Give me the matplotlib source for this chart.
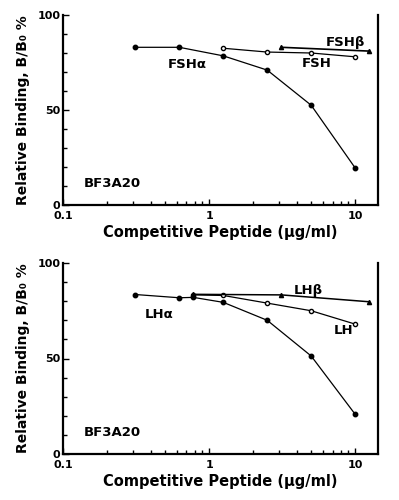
import matplotlib
matplotlib.use("Agg")
import matplotlib.pyplot as plt
from matplotlib.ticker import FixedLocator, NullFormatter

plt.rcParams['font.family'] = ['DejaVu Sans']
plt.rcParams['font.weight'] = 'bold'
plt.rcParams['axes.labelweight'] = 'bold'

# top panel: FSH
fsha_x = [0.3125, 0.625, 1.25, 2.5, 5, 10]
fsha_y = [83, 83, 78.5, 71, 52.5, 19.5]
fsh_x = [1.25, 2.5, 5, 10]
fsh_y = [82.5, 80.5, 80, 78]
fshb_x = [3.125, 12.5]
fshb_y = [83, 81]

# bottom panel: LH
lha_x = [0.3125, 0.625, 0.78, 1.25, 2.5, 5, 10]
lha_y = [83.5, 81.8, 82, 79.4, 70, 51.3, 20.8]
lh_x = [0.78, 1.25, 2.5, 5, 10]
lh_y = [83.3, 83, 79, 75, 68]
lhb_x = [0.78, 3.125, 12.5]
lhb_y = [83.6, 83.3, 79.7]

fig = plt.figure(figsize=(3.99, 5.0), dpi=100)
ax1 = fig.add_axes([0.158, 0.59, 0.789, 0.38])
ax2 = fig.add_axes([0.158, 0.092, 0.789, 0.382])


def style(ax):
    ax.set_xscale('log')
    ax.set_xlim(0.1, 14.3)
    ax.set_ylim(0, 100)
    ax.spines['top'].set_visible(False)
    for s in ['left', 'bottom', 'right']:
        ax.spines[s].set_linewidth(1.6)
    ax.set_yticks([0, 50, 100])
    ax.yaxis.set_minor_locator(FixedLocator([10, 20, 30, 40, 60, 70, 80, 90]))
    ax.set_xticks([0.1, 1, 10])
    ax.set_xticklabels(['0.1', '1', '10'])
    ax.xaxis.set_minor_formatter(NullFormatter())
    ax.tick_params(which='both', direction='in', labelsize=8, width=1.0)
    ax.tick_params(which='major', length=4)
    ax.tick_params(which='minor', length=3)
    ax.tick_params(axis='y', pad=2)
    ax.tick_params(axis='x', pad=4.5)
    ax.set_ylabel('Relative Binding, B/B₀ %', fontsize=10, labelpad=5)
    ax.set_xlabel('Competitive Peptide (μg/ml)', fontsize=10.5, labelpad=3)
    ax.text(0.138, 9.5, 'BF3A20', fontsize=9.5)


style(ax1)
ax1.plot(fsha_x, fsha_y, color='black', lw=0.9, marker='o', ms=3.2)
ax1.plot(fsh_x, fsh_y, color='black', lw=0.9, marker='o', ms=3, mfc='white')
ax1.plot(fshb_x, fshb_y, color='black', lw=1.2, marker='^', ms=3)
ax1.text(0.52, 72, 'FSHα', fontsize=9.5)
ax1.text(6.3, 83.5, 'FSHβ', fontsize=9.5)
ax1.text(4.3, 72.5, 'FSH', fontsize=9.5)

style(ax2)
ax2.plot(lha_x, lha_y, color='black', lw=0.9, marker='o', ms=3.2)
ax2.plot(lh_x, lh_y, color='black', lw=0.9, marker='o', ms=3, mfc='white')
ax2.plot(lhb_x, lhb_y, color='black', lw=1.1, marker='^', ms=3)
ax2.text(0.36, 71, 'LHα', fontsize=9.5)
ax2.text(3.8, 84, 'LHβ', fontsize=9.5)
ax2.text(7.1, 63, 'LH', fontsize=9.5)

fig.savefig('out.png', dpi=100)
